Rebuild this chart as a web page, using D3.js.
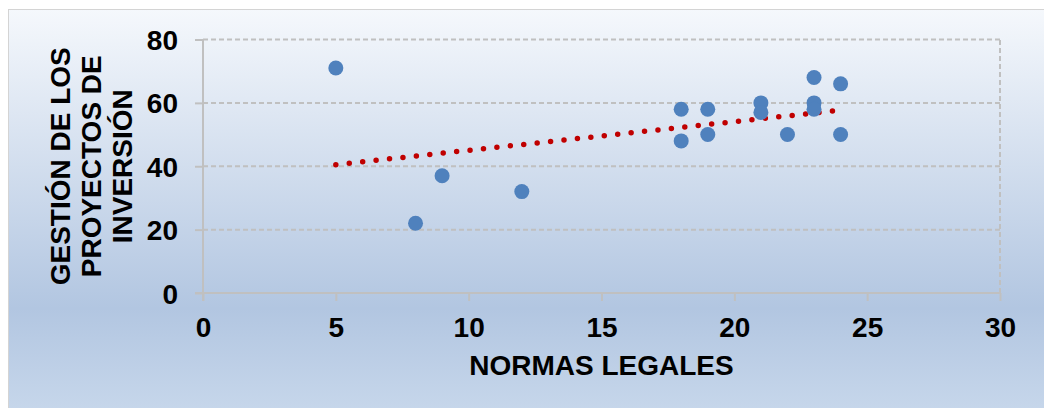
<!DOCTYPE html>
<html><head><meta charset="utf-8">
<script src="https://cdn.jsdelivr.net/npm/d3@7"></script>
<style>html,body{margin:0;padding:0;background:#fff;overflow:hidden}</style>
</head><body>
<svg id="c" width="1044" height="408"></svg>
<script>
// Data
const normasLegales = [5, 8, 9, 12, 18, 18, 19, 19, 21, 21, 22, 23, 23, 23, 24, 24];
const gestionProyectos = [71, 22, 37, 32, 58, 48, 58, 50, 60, 57, 50, 68, 60, 58, 66, 50];
const trendX = [5, 24];
const trendY = [40.5, 57.7];
const xTicks = [0, 5, 10, 15, 20, 25, 30];
const yTicks = [0, 20, 40, 60, 80];
const xTitle = "NORMAS LEGALES";
const yTitleLines = ["GESTIÓN DE LOS", "PROYECTOS DE", "INVERSIÓN"];

const svg = d3.select("#c");
const font = "'Liberation Sans', Arial, sans-serif";
const fs = 28;

const defs = svg.append("defs");
const grad = defs.append("linearGradient").attr("id", "bg").attr("x1", 0).attr("y1", 0).attr("x2", 0).attr("y2", 1);
grad.append("stop").attr("offset", "0").attr("stop-color", "#f5f8fc");
grad.append("stop").attr("offset", "0.74").attr("stop-color", "#b2c6e1");
grad.append("stop").attr("offset", "1").attr("stop-color", "#c7d7eb");

svg.append("rect").attr("x", 8.5).attr("y", 9.5).attr("width", 1040).attr("height", 404)
  .attr("fill", "url(#bg)").attr("stroke", "#d4d4d4").attr("stroke-width", 1);

const x = d3.scaleLinear().domain([0, 30]).range([203, 1000]);
const y = d3.scaleLinear().domain([0, 80]).range([293, 39.5]);

// Grid lines
const g = svg.append("g");
g.selectAll("line.hg").data(yTicks.filter(d => d > 0)).join("line")
  .attr("x1", x(0)).attr("x2", x(30)).attr("y1", d => y(d)).attr("y2", d => y(d))
  .attr("stroke", "#c0c0c0").attr("stroke-width", 2).attr("stroke-dasharray", "5,3");
g.append("line").attr("x1", x(30)).attr("x2", x(30)).attr("y1", y(0)).attr("y2", y(80))
  .attr("stroke", "#c0c0c0").attr("stroke-width", 2).attr("stroke-dasharray", "5,3");

// Axes
const xAxis = d3.axisBottom(x).tickValues(xTicks).tickSize(8).tickPadding(16).tickFormat(d3.format("d"));
const yAxis = d3.axisLeft(y).tickValues(yTicks).tickSize(8).tickPadding(16).tickFormat(d3.format("d"));
const gx = svg.append("g").attr("transform", `translate(0,${y(0)})`).call(xAxis);
const gy = svg.append("g").attr("transform", `translate(${x(0)},0)`).call(yAxis);
[gx, gy].forEach(a => {
  a.select(".domain").attr("stroke", "#c0c0c0").attr("stroke-width", 2);
  a.selectAll(".tick line").attr("stroke", "#c0c0c0").attr("stroke-width", 2);
  a.selectAll("text").attr("font-family", font).attr("font-weight", "bold")
    .attr("font-size", fs).attr("fill", "#000");
});
gx.select(".domain").attr("d", `M${x(0)-8},0H${x(30)}`);
gy.select(".domain").attr("d", `M0,${y(80)}V${y(0)+8}`);
gx.selectAll("text").attr("dy", null).attr("y", 44);
gy.selectAll("text").attr("dy", null).attr("x", -25).attr("y", 10);

// Trendline
const line = d3.line().x(d => x(d[0])).y(d => y(d[1]));
svg.append("path").datum(trendX.map((v, i) => [v, trendY[i]]))
  .attr("d", line).attr("fill", "none").attr("stroke", "#c00000")
  .attr("stroke-width", 5.5).attr("stroke-linecap", "round").attr("stroke-dasharray", "0 13.5");

// Points
svg.append("g").selectAll("circle").data(normasLegales.map((v, i) => [v, gestionProyectos[i]])).join("circle")
  .attr("cx", d => x(d[0])).attr("cy", d => y(d[1])).attr("r", 7.5).attr("fill", "#4f81bd");

// Titles
svg.append("text").attr("x", (x(0) + x(30)) / 2).attr("y", 375).attr("text-anchor", "middle")
  .attr("font-family", font).attr("font-weight", "bold").attr("font-size", fs).attr("fill", "#000")
  .text(xTitle);
const cy = (y(0) + y(80)) / 2;
const baselines = [70, 101, 132];
yTitleLines.forEach((t, i) => {
  svg.append("text").attr("transform", `translate(${baselines[i]},${cy}) rotate(-90)`)
    .attr("text-anchor", "middle").attr("font-family", font).attr("font-weight", "bold")
    .attr("font-size", fs).attr("fill", "#000").text(t);
});
</script>
</body></html>
